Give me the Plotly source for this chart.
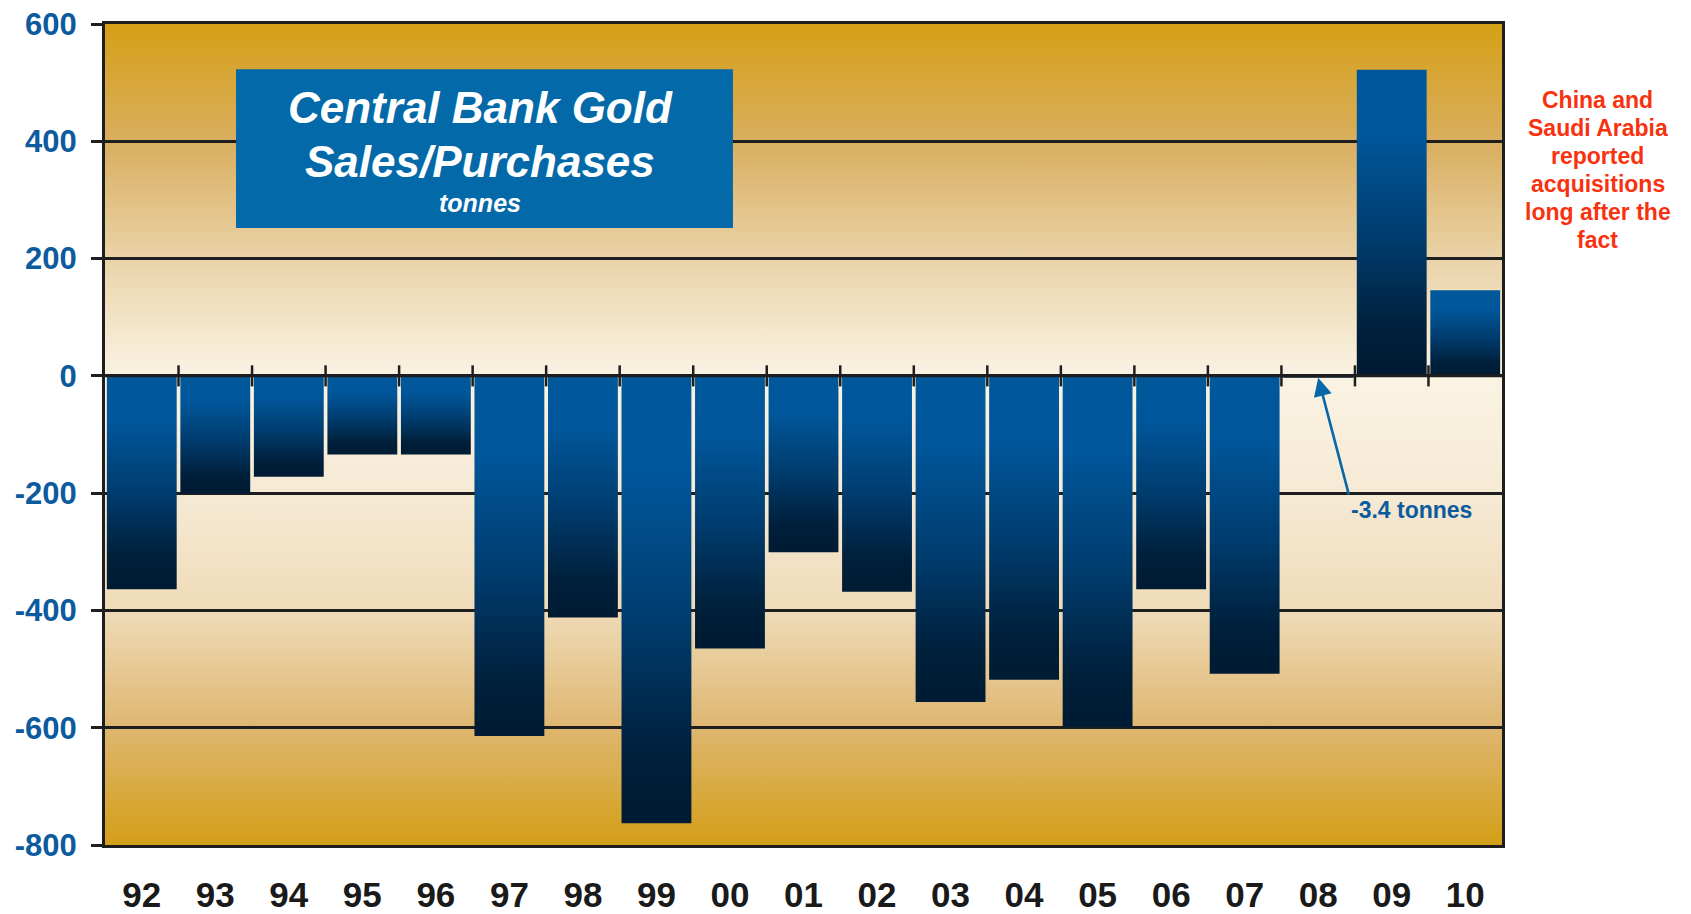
import base64
import plotly.graph_objects as go

# Net central bank gold sales (-) / purchases (+), tonnes
years = ["92", "93", "94", "95", "96", "97", "98", "99", "00", "01",
         "02", "03", "04", "05", "06", "07", "08", "09", "10"]
tonnes = [-364, -201, -172, -134, -134, -614, -412, -763, -465, -301,
          -368, -556, -518, -599, -364, -508, -3.4, 522, 146]

y_ticks = [600, 400, 200, 0, -200, -400, -600, -800]
y_tick_text = ["600", "400", "200", "0", "-200", "-400", "-600", "-800"]

title_lines = ["Central Bank Gold", "Sales/Purchases"]
unit_label = "tonnes"
note_lines = ["China and", "Saudi Arabia", "reported", "acquisitions",
              "long after the", "fact"]
callout_text = "-3.4 tonnes"

Y_MIN, Y_MAX = -800, 600
BAR_WIDTH = 0.95

# bar shading, from the lower end of a bar (0) to its upper end (1)
bar_scale = [[0.0, "#001B33"], [0.15, "#001F3A"], [0.45, "#003C6E"],
             [0.78, "#00569A"], [1.0, "#00589B"]]

# plot background shading keyed on the y value
bg_stops = [(600, "#D5A016"), (400, "#D9AE5F"), (200, "#EAD3A8"),
            (0, "#FAF3E3"), (-200, "#F6EAD5"), (-400, "#EFDBB8"),
            (-600, "#DEB670"), (-800, "#D49F17")]


def background_svg():
    span = Y_MAX - Y_MIN
    stops = "".join(
        "<stop offset='%.4f' stop-color='%s'/>" % ((Y_MAX - v) / span, c)
        for v, c in bg_stops)
    svg = ("<svg xmlns='http://www.w3.org/2000/svg' width='20' height='1400' "
           "viewBox='0 0 20 1400' preserveAspectRatio='none'>"
           "<defs><linearGradient id='g' x1='0' y1='0' x2='0' y2='1'>"
           + stops +
           "</linearGradient></defs>"
           "<rect x='0' y='0' width='20' height='1400' fill='url(#g)'/></svg>")
    return "data:image/svg+xml;base64," + base64.b64encode(svg.encode()).decode()


fig = go.Figure()

# bars as filled columns so each can carry a vertical gradient
half = BAR_WIDTH / 2
for i, v in enumerate(tonnes):
    fig.add_trace(go.Scatter(
        x=[i - half, i + half, i + half, i - half, i - half],
        y=[0, 0, v, v, 0],
        mode="lines", fill="toself", line=dict(width=0),
        fillgradient=dict(type="vertical", colorscale=bar_scale,
                          start=min(0, v), stop=max(0, v)),
        hoverinfo="skip", showlegend=False,
    ))

# zero line with category separator ticks crossing it
sep_x, sep_y = [], []
for k in range(len(years) - 1):
    sep_x += [k + 0.5, k + 0.5, None]
    sep_y += [-18, 18, None]
fig.add_trace(go.Scatter(x=[-0.5, len(years) - 0.5], y=[0, 0], mode="lines",
                         line=dict(color="#1E1E1E", width=3),
                         hoverinfo="skip", showlegend=False, cliponaxis=False))
fig.add_trace(go.Scatter(x=sep_x, y=sep_y, mode="lines",
                         line=dict(color="#1E1E1E", width=2.5),
                         hoverinfo="skip", showlegend=False, cliponaxis=False))

# title panel
shapes = [dict(type="rect", xref="paper", yref="paper",
               x0=0.0938, x1=0.4495, y0=0.7515, y1=0.945,
               fillcolor="#0369A8", line=dict(width=0), layer="above")]

annotations = []
for i, line in enumerate(title_lines):
    annotations.append(dict(text=line, xref="paper", yref="paper",
                            x=0.2685, y=0.898, yshift=-i * 54,
                            xanchor="center", yanchor="middle", showarrow=False,
                            font=dict(family="Liberation Sans, Arial", size=44,
                                      color="white", weight="bold", style="italic")))
annotations.append(dict(text=unit_label, xref="paper", yref="paper",
                        x=0.2685, y=0.898, yshift=-95,
                        xanchor="center", yanchor="middle", showarrow=False,
                        font=dict(family="Liberation Sans, Arial", size=25,
                                  color="white", weight="bold", style="italic")))

for i, line in enumerate(note_lines):
    annotations.append(dict(text=line, xref="paper", yref="paper",
                            x=1.0687, y=0.9074, yshift=-i * 28,
                            xanchor="center", yanchor="middle", showarrow=False,
                            font=dict(family="Liberation Sans, Arial", size=23,
                                      color="#F8320F", weight="bold")))

# call-out for the near-zero 2008 figure
idx08 = years.index("08")
annotations.append(dict(text="", x=idx08, y=tonnes[idx08], xref="x", yref="y",
                        ax=31, ay=118, showarrow=True, arrowhead=2,
                        arrowsize=1.4, arrowwidth=2.6, arrowcolor="#0767A8",
                        standoff=0))
annotations.append(dict(text=callout_text, xref="paper", yref="paper",
                        x=(1349 - 105) / 1397, y=(845 - 510) / 821,
                        xanchor="left", yanchor="middle", showarrow=False,
                        font=dict(family="Liberation Sans, Arial", size=23,
                                  color="#0B5B9E", weight="bold")))

fig.update_layout(
    width=1691, height=914,
    margin=dict(l=105, r=189, t=24, b=69, autoexpand=False),
    paper_bgcolor="white", plot_bgcolor="#FAF3E3",
    shapes=shapes, annotations=annotations,
    images=[dict(source=background_svg(), xref="paper", yref="paper",
                 x=0, y=1, sizex=1, sizey=1, xanchor="left", yanchor="top",
                 sizing="stretch", layer="below")],
    showlegend=False,
)

fig.update_xaxes(
    range=[-0.5, len(years) - 0.5], tickmode="array", automargin=False,
    tickvals=list(range(len(years))), ticktext=years, ticks="",
    ticklabelstandoff=17,
    tickfont=dict(family="Liberation Sans, Arial", size=35, color="#1A1A1A",
                  weight="bold"),
    showgrid=False, zeroline=False,
    showline=True, linecolor="#1E1E1E", linewidth=3, mirror=True,
)

fig.update_yaxes(
    range=[Y_MIN, Y_MAX], tickmode="array", automargin=False,
    tickvals=y_ticks, ticktext=y_tick_text,
    ticks="outside", ticklen=11, tickwidth=2.5, tickcolor="#1E1E1E",
    ticklabelstandoff=8,
    tickfont=dict(family="Liberation Sans, Arial", size=31, color="#0B5B9E",
                  weight="bold"),
    showgrid=True, gridcolor="#1E1E1E", gridwidth=2.5, zeroline=False,
    showline=True, linecolor="#1E1E1E", linewidth=3, mirror=True,
)

fig.write_html("out.html")
